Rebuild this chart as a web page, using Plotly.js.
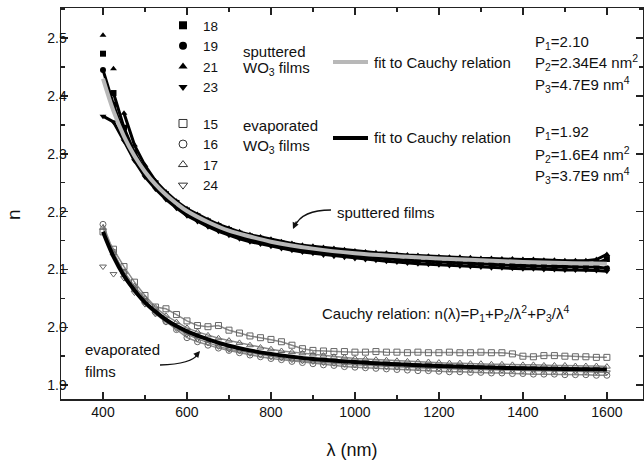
<!DOCTYPE html>
<html>
<head>
<meta charset="utf-8">
<script src="https://cdn.plot.ly/plotly-3.0.1.min.js"></script>
<style>html,body{margin:0;padding:0;background:#fff;}#chart{width:644px;height:461px;}</style>
</head>
<body>
<div id="chart"></div>
<script>
// ---- data ----
const lam = [400,425,450,475,500,525,550,575,600,625,650,675,700,725,750,775,800,825,850,875,900,925,950,975,1000,1025,1050,1075,1100,1125,1150,1175,1200,1225,1250,1275,1300,1325,1350,1375,1400,1425,1450,1475,1500,1525,1550,1575,1600];

// sputtered WO3 films
const s18 = [2.473,2.405,2.345,2.302,2.272,2.249,2.230,2.215,2.202,2.192,2.183,2.175,2.168,2.162,2.157,2.153,2.149,2.145,2.142,2.139,2.137,2.134,2.132,2.130,2.128,2.127,2.125,2.124,2.123,2.121,2.120,2.119,2.118,2.117,2.117,2.116,2.115,2.115,2.114,2.113,2.113,2.112,2.112,2.111,2.111,2.111,2.110,2.111,2.118];
const s19 = [2.445,2.385,2.333,2.295,2.266,2.244,2.225,2.210,2.197,2.187,2.178,2.170,2.163,2.157,2.152,2.148,2.144,2.140,2.137,2.134,2.132,2.129,2.127,2.125,2.123,2.122,2.120,2.119,2.117,2.116,2.115,2.114,2.113,2.112,2.111,2.110,2.109,2.109,2.108,2.107,2.107,2.106,2.106,2.105,2.105,2.104,2.104,2.104,2.102];
const s21 = [2.505,2.447,2.370,2.315,2.280,2.253,2.234,2.218,2.205,2.195,2.186,2.178,2.171,2.165,2.160,2.156,2.152,2.148,2.145,2.142,2.140,2.138,2.136,2.134,2.132,2.130,2.129,2.128,2.126,2.125,2.124,2.123,2.122,2.121,2.121,2.120,2.119,2.119,2.118,2.118,2.117,2.117,2.116,2.116,2.115,2.115,2.115,2.117,2.126];
const s23 = [2.365,2.355,2.322,2.288,2.260,2.239,2.221,2.206,2.193,2.183,2.174,2.166,2.159,2.153,2.148,2.144,2.140,2.136,2.133,2.130,2.128,2.125,2.123,2.121,2.119,2.117,2.116,2.114,2.113,2.111,2.110,2.109,2.108,2.107,2.106,2.105,2.104,2.103,2.103,2.102,2.101,2.101,2.100,2.100,2.099,2.099,2.099,2.098,2.097];

// evaporated WO3 films
const e15 = [2.165,2.135,2.105,2.078,2.055,2.035,2.032,2.022,2.011,2.003,2.001,2.003,1.995,1.990,1.985,1.982,1.979,1.975,1.969,1.963,1.960,1.959,1.958,1.958,1.957,1.957,1.958,1.957,1.957,1.956,1.957,1.956,1.956,1.957,1.956,1.956,1.957,1.956,1.956,1.954,1.950,1.949,1.951,1.951,1.950,1.949,1.949,1.948,1.948];
const e16 = [2.178,2.130,2.093,2.066,2.044,2.026,2.010,1.996,1.982,1.975,1.969,1.964,1.960,1.956,1.952,1.949,1.946,1.944,1.941,1.939,1.937,1.935,1.934,1.932,1.931,1.930,1.929,1.928,1.927,1.926,1.925,1.925,1.924,1.923,1.923,1.922,1.922,1.921,1.921,1.920,1.920,1.919,1.919,1.919,1.918,1.918,1.918,1.917,1.917];
const e17 = [2.172,2.128,2.096,2.071,2.050,2.034,2.020,2.009,1.999,1.992,1.986,1.981,1.977,1.973,1.969,1.965,1.962,1.959,1.957,1.955,1.953,1.951,1.949,1.948,1.946,1.945,1.944,1.943,1.942,1.941,1.940,1.940,1.939,1.938,1.938,1.937,1.937,1.936,1.936,1.935,1.935,1.935,1.934,1.934,1.934,1.933,1.933,1.933,1.932];
const e24 = [2.105,2.092,2.085,2.060,2.040,2.023,2.009,1.998,1.988,1.980,1.973,1.967,1.962,1.959,1.955,1.952,1.949,1.947,1.944,1.942,1.941,1.939,1.938,1.936,1.935,1.934,1.933,1.932,1.931,1.931,1.930,1.929,1.929,1.928,1.928,1.927,1.927,1.926,1.926,1.926,1.925,1.925,1.925,1.924,1.924,1.924,1.923,1.923,1.922];

// Cauchy fit curves
const fitLam = [400,425,450,475,500,525,550,575,600,650,700,750,800,900,1000,1100,1200,1300,1400,1500,1600];
const fitSput = [2.430,2.374,2.330,2.296,2.269,2.247,2.229,2.214,2.201,2.182,2.167,2.157,2.148,2.136,2.128,2.123,2.119,2.116,2.113,2.111,2.110];
const fitEvap = [2.165,2.122,2.089,2.064,2.043,2.027,2.013,2.002,1.993,1.979,1.968,1.960,1.954,1.945,1.940,1.936,1.933,1.931,1.929,1.928,1.927];

const sputNames = ['18','19','21','23'];
const sputSeries = [s18, s19, s21, s23];
const sputSymbols = ['square','circle','triangle-up','triangle-down'];
const evapNames = ['15','16','17','24'];
const evapSeries = [e15, e16, e17, e24];
const evapSymbols = ['square-open','circle-open','triangle-up-open','triangle-down-open'];

// ---- style / layout helpers (pixel -> paper) ----
const L = 61, R = 1, T = 8, B = 62, W = 644, H = 461;
const PW = W - L - R, PH = H - T - B;
const px = x => (x - L) / PW;
const py = y => (H - B - y) / PH;
const FONT = 'Liberation Sans, Arial, Helvetica, sans-serif';
// index where the markers of each series start merging into a dense band
const sputBandStart = [1, 0, 2, 0];
const evapBandStart = [0, 0, 0, 2];

const traces = [];
sputSeries.forEach((ys, i) => {
  const k = sputBandStart[i];
  traces.push({x: lam.slice(k), y: ys.slice(k), mode: 'lines', line: {color: '#000', width: 3},
    showlegend: false, hoverinfo: 'skip'});
});
sputSeries.forEach((ys, i) => {
  traces.push({x: lam, y: ys, name: sputNames[i], mode: 'markers', showlegend: false,
    marker: {symbol: sputSymbols[i], size: 6, color: '#000'}});
});
evapSeries.forEach((ys, i) => {
  const k = evapBandStart[i];
  traces.push({x: lam.slice(k), y: ys.slice(k), mode: 'lines', line: {color: '#8a8a8a', width: 1.5},
    showlegend: false, hoverinfo: 'skip'});
});
evapSeries.forEach((ys, i) => {
  traces.push({x: lam, y: ys, name: evapNames[i], mode: 'markers', showlegend: false,
    marker: {symbol: evapSymbols[i], size: 6, color: '#666', line: {width: 1, color: '#666'}}});
});
traces.push({x: fitLam, y: fitSput, mode: 'lines', line: {color: '#b8b8b8', width: 4, shape: 'spline'}, showlegend: false});
traces.push({x: fitLam, y: fitEvap, mode: 'lines', line: {color: '#000', width: 4, shape: 'spline'}, showlegend: false});
// legend keys (larger symbols, as in the reference key)
sputNames.forEach((n, i) => {
  traces.push({x: [null], y: [null], name: n, mode: 'markers', legendgroup: 's',
    marker: {symbol: sputSymbols[i], size: 8, color: '#000'}});
});
evapNames.forEach((n, i) => {
  traces.push({x: [null], y: [null], name: n, mode: 'markers', legendgroup: 'e',
    marker: {symbol: evapSymbols[i], size: 8, color: '#333', line: {width: 1, color: '#333'}}});
});

function txt(text, x, y, size, extra) {
  return Object.assign({text: text, xref: 'paper', yref: 'paper', x: px(x), y: py(y),
    xanchor: 'left', yanchor: 'middle', showarrow: false,
    font: {family: FONT, size: size || 15, color: '#111'}}, extra || {});
}

const annotations = [
  txt('sputtered', 241, 51),
  txt('WO<sub>3</sub> films', 241, 68),
  txt('fit to Cauchy relation', 372, 62),
  txt('P<sub>1</sub>=2.10', 533, 43),
  txt('P<sub>2</sub>=2.34E4 nm<sup>2</sup>', 533, 63),
  txt('P<sub>3</sub>=4.7E9 nm<sup>4</sup>', 533, 84),
  txt('evaporated', 241, 126),
  txt('WO<sub>3</sub> films', 241, 146),
  txt('fit to Cauchy relation', 372, 138),
  txt('P<sub>1</sub>=1.92', 533, 132),
  txt('P<sub>2</sub>=1.6E4 nm<sup>2</sup>', 533, 154),
  txt('P<sub>3</sub>=3.7E9 nm<sup>4</sup>', 533, 176),
  txt('sputtered films', 335, 212),
  txt('Cauchy relation: n(λ)=P<sub>1</sub>+P<sub>2</sub>/λ<sup>2</sup>+P<sub>3</sub>/λ<sup>4</sup>', 320, 313),
  txt('evaporated', 83, 349),
  txt('films', 83, 371),
  // arrow heads
  {xref: 'paper', yref: 'paper', x: px(293), y: py(229), ax: 4, ay: -9, axref: 'pixel', ayref: 'pixel',
   text: '', showarrow: true, arrowhead: 2, arrowsize: 1, arrowwidth: 1.3, arrowcolor: '#111'},
  {xref: 'paper', yref: 'paper', x: px(200), y: py(351), ax: -6, ay: 7, axref: 'pixel', ayref: 'pixel',
   text: '', showarrow: true, arrowhead: 2, arrowsize: 1, arrowwidth: 1.3, arrowcolor: '#111'},
  // y axis title
  txt('n', 13, 215, 19, {textangle: -90, xanchor: 'center'})
];

function P(x, y) { return px(x).toFixed(4) + ',' + py(y).toFixed(4); }
const shapes = [
  {type: 'line', xref: 'paper', yref: 'paper', x0: px(333), x1: px(368), y0: py(62), y1: py(62), line: {color: '#b8b8b8', width: 4}},
  {type: 'line', xref: 'paper', yref: 'paper', x0: px(333), x1: px(368), y0: py(138), y1: py(138), line: {color: '#000', width: 4}},
  {type: 'path', xref: 'paper', yref: 'paper', path: 'M' + P(331, 210) + ' Q' + P(302, 210) + ' ' + P(295, 226), line: {color: '#111', width: 1.3}},
  {type: 'path', xref: 'paper', yref: 'paper', path: 'M' + P(160, 365) + ' Q' + P(192, 364) + ' ' + P(198, 354), line: {color: '#111', width: 1.3}}
];

const axisCommon = {
  showgrid: false, zeroline: false, showline: true, linecolor: '#222', linewidth: 1.5,
  mirror: 'allticks', ticks: 'inside', ticklen: 7, tickwidth: 1.5, tickcolor: '#222',
  tickfont: {family: FONT, size: 14, color: '#111'}
};

const layout = {
  width: W, height: H,
  margin: {l: L, r: R, t: T, b: B},
  paper_bgcolor: '#fff', plot_bgcolor: '#fff',
  font: {family: FONT, color: '#111'},
  xaxis: Object.assign({}, axisCommon, {
    range: [300, 1686], tick0: 0, dtick: 200,
    minor: {dtick: 100, ticks: 'inside', ticklen: 4, tickwidth: 1.5, tickcolor: '#222'},
    title: {text: 'λ (nm)', font: {family: FONT, size: 18, color: '#111'}, standoff: 24}
  }),
  yaxis: Object.assign({}, axisCommon, {
    range: [1.876, 2.552], tick0: 0, dtick: 0.1, tickformat: '.1f', ticklabelstandoff: -10,
    minor: {dtick: 0.05, ticks: 'inside', ticklen: 4, tickwidth: 1.5, tickcolor: '#222'}
  }),
  showlegend: true,
  legend: {x: px(163), y: py(10), xanchor: 'left', yanchor: 'top', bgcolor: 'rgba(0,0,0,0)',
    font: {family: FONT, size: 13.5, color: '#111'}, traceorder: 'grouped', tracegroupgap: 16},
  annotations: annotations,
  shapes: shapes
};

Plotly.newPlot('chart', traces, layout, {displayModeBar: false, staticPlot: true});
</script>
</body>
</html>
